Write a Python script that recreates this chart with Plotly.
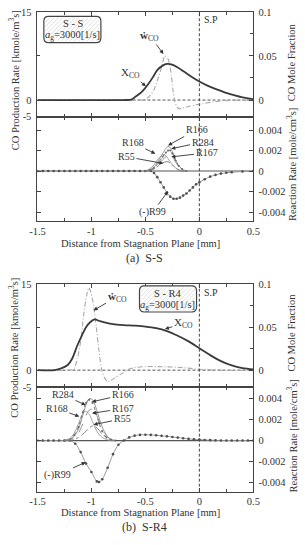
import plotly.graph_objects as go

W, H = 305, 545

# ---------------- data ----------------
x_tick_vals = [-1.5, -1, -0.5, 0, 0.5]
x_tick_text = ['-1.5', '-1', '-0.5', '0', '0.5']
x_minor_vals = [-1.25, -0.75, -0.25, 0.25]
frac_tick_vals = [0, 0.05, 0.1]
frac_tick_text = ['0', '0.05', '0.1']
rate_tick_vals = [-0.004, -0.002, 0, 0.002, 0.004]
rate_tick_text = ['-0.004', '-0.002', '0', '0.002', '0.004']

# Panel (a) S-S : upper
a_xco_x = [-1.5, -0.7, -0.63, -0.6, -0.56, -0.52, -0.48, -0.43, -0.39, -0.34, -0.30, -0.26,
           -0.20, -0.14, -0.08, 0.0, 0.08, 0.16, 0.24, 0.32, 0.40, 0.5]
a_xco = [0, 0, 0.0005, 0.003, 0.0065, 0.011, 0.017, 0.026, 0.034, 0.039, 0.041, 0.0405,
         0.037, 0.032, 0.027, 0.021, 0.016, 0.012, 0.0085, 0.0055, 0.003, 0.001]
a_wco_x = [-1.5, -0.55, -0.5, -0.46, -0.42, -0.38, -0.35, -0.32, -0.29, -0.275, -0.26, -0.245,
           -0.23, -0.21, -0.187, -0.16, -0.1, -0.04, 0.03, 0.1, 0.18, 0.28, 0.5]
a_wco = [0, 0, 0.1, 0.7, 1.8, 3.8, 5.6, 7.5, 7.0, 6.0, 4.3, 1.8,
         0.0, -1.1, -1.5, -1.4, -1.1, -0.85, -0.6, -0.4, -0.2, -0.05, 0]

# Panel (a) S-S : lower (reaction rates)
a_rx = [-0.5, -0.46, -0.42, -0.38, -0.34, -0.31, -0.29, -0.27, -0.25, -0.22, -0.19, -0.16, -0.12]
a_r166 = [0, 0.0001, 0.0004, 0.0010, 0.0017, 0.0022, 0.0024, 0.0023, 0.0019, 0.0011, 0.0005, 0.0002, 0]
a_r284 = [0, 0.0001, 0.0003, 0.0008, 0.0014, 0.0018, 0.0020, 0.0020, 0.0017, 0.0010, 0.0005, 0.0002, 0]
a_r167 = [0, 0.0001, 0.0002, 0.0006, 0.0011, 0.0014, 0.0016, 0.0016, 0.0014, 0.0009, 0.0004, 0.0001, 0]
a_r168 = [0, 0.0002, 0.0006, 0.0012, 0.0016, 0.0015, 0.0012, 0.0009, 0.0006, 0.0003, 0.0001, 0, 0]
a_r55 = [0, 0.0001, 0.0002, 0.0005, 0.0008, 0.0009, 0.0009, 0.0008, 0.0006, 0.0003, 0.0001, 0, 0]
a_r99_x = [-1.5, -1.45, -1.4, -1.35, -1.3, -1.25, -1.2, -1.15, -1.1, -1.05, -1.0, -0.95, -0.9,
           -0.85, -0.8, -0.75, -0.7, -0.65, -0.6, -0.55, -0.5, -0.45, -0.42, -0.39, -0.36,
           -0.33, -0.30, -0.27, -0.24, -0.21, -0.18, -0.15, -0.12, -0.09, -0.06, -0.03, 0.0,
           0.05, 0.1, 0.15, 0.2, 0.25, 0.3, 0.4, 0.5]
a_r99 = [0, 0, 0, 0, 0, 0, 0, 0, 0, 0, 0, 0, 0,
         0, 0, 0, 0, 0, 0, 0, 0, 0, -0.0002, -0.0006, -0.0011,
         -0.0016, -0.0021, -0.0025, -0.0027, -0.0027, -0.0026, -0.0024, -0.0022, -0.0019, -0.0016, -0.0013, -0.0011,
         -0.0008, -0.00055, -0.00038, -0.00025, -0.00017, -0.00012, -0.00005, 0]

# Panel (b) S-R4 : upper
b_xco_x = [-1.5, -1.34, -1.28, -1.22, -1.18, -1.13, -1.09, -1.05, -1.01, -0.97, -0.92, -0.86,
           -0.8, -0.7, -0.6, -0.5, -0.4, -0.3, -0.2, -0.1, 0.0, 0.1, 0.2, 0.3, 0.4, 0.5]
b_xco = [0, 0, 0.002, 0.006, 0.013, 0.029, 0.040, 0.050, 0.056, 0.059, 0.057, 0.055,
         0.0536, 0.0525, 0.0518, 0.0508, 0.049, 0.0455, 0.040, 0.0335, 0.0255, 0.0175, 0.0105, 0.0055, 0.0025, 0.001]
b_wco_x = [-1.5, -1.2, -1.16, -1.13, -1.10, -1.07, -1.045, -1.025, -1.005, -0.98, -0.955, -0.93,
           -0.905, -0.88, -0.85, -0.82, -0.78, -0.72, -0.66, -0.6, -0.5, -0.4, -0.3, -0.2,
           -0.1, 0.0, 0.1, 0.2, 0.5]
b_wco = [0, 0, 0.3, 2.0, 5.0, 10.0, 13.0, 14.4, 13.6, 11.3, 7.5, 3.4,
         0.1, -1.3, -2.0, -1.8, -1.3, -0.6, 0.1, 0.45, 0.62, 0.62, 0.58, 0.5,
         0.35, 0.15, 0.05, 0, 0]

# Panel (b) S-R4 : lower (reaction rates)
b_rx = [-1.25, -1.2, -1.16, -1.12, -1.08, -1.05, -1.02, -0.99, -0.96, -0.93, -0.9, -0.86, -0.82, -0.78]
b_r166 = [0, 0.0001, 0.0004, 0.0011, 0.0024, 0.0034, 0.0040, 0.0039, 0.0032, 0.0022, 0.0013, 0.0005, 0.0001, 0]
b_r284 = [0, 0.0001, 0.0005, 0.0013, 0.0027, 0.0036, 0.0039, 0.0036, 0.0027, 0.0017, 0.0009, 0.0003, 0.0001, 0]
b_r168 = [0, 0.0002, 0.0007, 0.0016, 0.0026, 0.0028, 0.0025, 0.0018, 0.0011, 0.0006, 0.0003, 0.0001, 0, 0]
b_r167 = [0, 0.0001, 0.0002, 0.0007, 0.0016, 0.0024, 0.0029, 0.0030, 0.0026, 0.0019, 0.0011, 0.0005, 0.0001, 0]
b_r55 = [0, 0, 0.0001, 0.0003, 0.0006, 0.0009, 0.0012, 0.0014, 0.0013, 0.0010, 0.0006, 0.0003, 0.0001, 0]
b_r99_x = [-1.5, -1.45, -1.4, -1.35, -1.3, -1.25, -1.2, -1.15, -1.1, -1.05, -1.0, -0.95, -0.93,
           -0.9, -0.85, -0.8, -0.75, -0.7, -0.65, -0.6, -0.55, -0.5, -0.45, -0.4, -0.35, -0.3,
           -0.25, -0.2, -0.15, -0.1, -0.05, 0.0, 0.05, 0.1, 0.15, 0.2, 0.25, 0.3, 0.35, 0.4, 0.45, 0.5]
b_r99 = [0, 0, 0, 0, 0, 0, 0, -0.0003, -0.0011, -0.0022, -0.0030, -0.0039, -0.00395,
         -0.0037, -0.0026, -0.0013, -0.0004, 0, 0.0003, 0.00047, 0.00054, 0.00056, 0.00054, 0.0005, 0.00045, 0.0004,
         0.00034, 0.00028, 0.00022, 0.00016, 0.00012, 0.00009, 0.00006, 0.00004, 0.00002, 0.00001, 0, 0, 0, 0, 0, 0]

# ---------------- helpers ----------------
def PX(x):
    return x / W

def PY(y):
    return 1 - y / H

FONT = "Liberation Serif"
DARK = '#3a3a3a'
AX = '#444444'

XL, XR = 31, 258
A_TOP, A_MID, A_BOT = 7, 114, 220.7
B_TOP, B_MID, B_BOT = 285, 390, 496.7

fig = go.Figure()

def curve(x, y, xa, ya, color, width, dash='solid', mode='lines', msize=3, mcolor=None, smooth=0.9):
    fig.add_trace(go.Scatter(
        x=x, y=y, xaxis=xa, yaxis=ya, mode=mode, showlegend=False, hoverinfo='skip',
        line=dict(color=color, width=width, dash=dash, shape='spline', smoothing=smooth),
        marker=dict(size=msize, color=mcolor or color)))

# panel a  (R99 on left lower axis y3, peaks on right lower axis y4 -> both axes carry traces)
curve(a_wco_x, a_wco, 'x', 'y', '#a8a8a8', 1.1, '5px,2px,1px,2px', smooth=0.6)
curve(a_xco_x, a_xco, 'x', 'y2', DARK, 1.8)
curve(a_r99_x, a_r99, 'x2', 'y3', '#9a9a9a', 1.0, 'solid', 'lines+markers', 2.6, '#505050')
curve(a_rx, a_r168, 'x2', 'y4', '#9a9a9a', 0.9)
curve(a_rx, a_r55, 'x2', 'y4', '#777777', 0.9, 'dashdot')
curve(a_rx, a_r166, 'x2', 'y4', '#8a8a8a', 0.9)
curve(a_rx, a_r284, 'x2', 'y4', '#666666', 0.9, 'dot', 'lines+markers', 2)
curve(a_rx, a_r167, 'x2', 'y4', '#888888', 0.9, 'dash')
# panel b
curve(b_wco_x, b_wco, 'x3', 'y5', '#a8a8a8', 1.1, '5px,2px,1px,2px', smooth=0.6)
curve(b_xco_x, b_xco, 'x3', 'y6', DARK, 1.8)
curve(b_r99_x, b_r99, 'x4', 'y7', '#9a9a9a', 1.0, 'solid', 'lines+markers', 2.6, '#505050')
curve(b_rx, b_r168, 'x4', 'y8', '#9a9a9a', 0.9)
curve(b_rx, b_r55, 'x4', 'y8', '#777777', 0.9, 'dashdot')
curve(b_rx, b_r166, 'x4', 'y8', '#8a8a8a', 0.9)
curve(b_rx, b_r284, 'x4', 'y8', '#666666', 0.9, 'dot', 'lines+markers', 2)
curve(b_rx, b_r167, 'x4', 'y8', '#888888', 0.9, 'dash')

tickfont = dict(family=FONT, size=10.5, color='#333')
xdom = [PX(XL), PX(XR)]

def xax(anchor, labels):
    return dict(domain=xdom, anchor=anchor, range=[-1.5, 0.5], tickvals=x_tick_vals, ticktext=x_tick_text,
                ticks='inside', ticklen=4, tickcolor=AX, showline=True, linecolor=AX, linewidth=1,
                mirror='ticks', showgrid=False, zeroline=False, showticklabels=labels, tickfont=tickfont,
                minor=dict(tickvals=x_minor_vals, ticks='inside', ticklen=3, tickcolor=AX))

def yleft(dom, anchor, rng, tv, tt, labels=True, minor=None):
    d = dict(domain=dom, anchor=anchor, range=rng, tickvals=tv, ticktext=tt, ticks='inside', ticklen=4,
             tickcolor=AX, showline=True, linecolor=AX, linewidth=1, showgrid=False, zeroline=False,
             showticklabels=labels, tickfont=tickfont, ticklabelstandoff=3)
    if minor:
        d['minor'] = dict(tickvals=minor, ticks='inside', ticklen=3, tickcolor=AX)
    return d

def yright(dom, over, anchor, rng, tv, tt, minor=None):
    d = dict(domain=dom, overlaying=over, side='right', anchor=anchor, range=rng, tickvals=tv, ticktext=tt,
             ticks='inside', ticklen=4, tickcolor=AX, showline=True, linecolor=AX, linewidth=1,
             showgrid=False, zeroline=False, tickfont=tickfont, ticklabelstandoff=2)
    if minor:
        d['minor'] = dict(tickvals=minor, ticks='inside', ticklen=3, tickcolor=AX)
    return d

a_up_rng = [-2.833, 15]
b_up_rng = [-2.96, 15]
a_lo_rng = [-0.0049, 0.0053]
b_lo_rng = [-0.00488, 0.0051]

dom_au = [PY(A_MID), PY(A_TOP)]
dom_al = [PY(A_BOT), PY(A_MID)]
dom_bu = [PY(B_MID), PY(B_TOP)]
dom_bl = [PY(B_BOT), PY(B_MID)]

fig.update_layout(
    width=W, height=H, margin=dict(l=0, r=0, t=0, b=0),
    plot_bgcolor='white', paper_bgcolor='white', showlegend=False,
    xaxis=xax('y', False),
    xaxis2=xax('y3', True),
    xaxis3=xax('y5', False),
    xaxis4=xax('y7', True),
    yaxis=yleft(dom_au, 'x', a_up_rng, [-2.82, 0, 15], ['-5', '0', '15'], minor=[7.5]),
    yaxis2=yright(dom_au, 'y', 'x', [a_up_rng[0] / 150, 0.1], frac_tick_vals, frac_tick_text, minor=[0.025, 0.075]),
    yaxis3=yleft(dom_al, 'x2', a_lo_rng, rate_tick_vals, rate_tick_text, labels=False),
    yaxis4=yright(dom_al, 'y3', 'x2', a_lo_rng, rate_tick_vals, rate_tick_text),
    yaxis5=yleft(dom_bu, 'x3', b_up_rng, [-2.95, 0, 15], ['-5', '0', '15'], minor=[7.5]),
    yaxis6=yright(dom_bu, 'y5', 'x3', [b_up_rng[0] / 150, 0.1], frac_tick_vals, frac_tick_text, minor=[0.025, 0.075]),
    yaxis7=yleft(dom_bl, 'x4', b_lo_rng, rate_tick_vals, rate_tick_text, labels=False),
    yaxis8=yright(dom_bl, 'y7', 'x4', b_lo_rng, rate_tick_vals, rate_tick_text),
)

shapes = []
for xr, yr in [('x domain', 'y'), ('x3 domain', 'y5')]:
    shapes.append(dict(type='line', xref=xr, yref=yr, x0=0, x1=1, y0=0, y1=0,
                       line=dict(color='#555', width=1, dash='3px,2px'), layer='below'))
for xr, yr in [('x2 domain', 'y3'), ('x4 domain', 'y7')]:
    shapes.append(dict(type='line', xref=xr, yref=yr, x0=0, x1=1, y0=0, y1=0,
                       line=dict(color='#555', width=1.2), layer='below'))
for xr, top, bot in [('x', A_TOP, A_BOT), ('x3', B_TOP, B_BOT)]:
    shapes.append(dict(type='line', xref=xr, yref='paper', x0=0, x1=0, y0=PY(bot), y1=PY(top),
                       line=dict(color='#444', width=1, dash='3px,2px')))

def P(x, y):
    return f"{PX(x):.5f},{PY(y):.5f}"

def rrect(x0, y0, x1, y1, r):
    return (f"M{P(x0 + r, y0)} L{P(x1 - r, y0)} Q{P(x1, y0)} {P(x1, y0 + r)} L{P(x1, y1 - r)} "
            f"Q{P(x1, y1)} {P(x1 - r, y1)} L{P(x0 + r, y1)} Q{P(x0, y1)} {P(x0, y1 - r)} "
            f"L{P(x0, y0 + r)} Q{P(x0, y0)} {P(x0 + r, y0)} Z")

def hatch(x0, y0, x1, y1, step=4.5, inset=1.5):
    x0, y0, x1, y1 = x0 + inset, y0 + inset, x1 - inset, y1 - inset
    segs = []
    c = x0 + y0 + step
    while c < x1 + y1:
        xa = max(x0, c - y1)
        xb = min(x1, c - y0)
        if xb > xa:
            segs.append(f"M{P(xa, c - xa)} L{P(xb, c - xb)}")
        c += step
    return " ".join(segs)

for (bx0, by0, bx1, by1) in [(37.7, 11.7, 97.7, 38.3), (138.3, 286.7, 198.3, 313.3)]:
    shapes.append(dict(type='path', xref='paper', yref='paper', path=rrect(bx0, by0, bx1, by1, 5),
                       fillcolor='white', line=dict(color='#444', width=1.2)))
    shapes.append(dict(type='path', xref='paper', yref='paper', path=hatch(bx0, by0, bx1, by1),
                       line=dict(color='#d2d2d2', width=0.7)))

fig.update_layout(shapes=shapes)

ann = []

def text(x, y, s, size=10.5, angle=0):
    ann.append(dict(xref='paper', yref='paper', x=PX(x), y=PY(y), text=s, showarrow=False,
                    textangle=angle, xanchor='center', yanchor='middle',
                    font=dict(family=FONT, size=size, color='#333')))

def arrow(hx, hy, tx, ty, s, size=10):
    ann.append(dict(xref='paper', yref='paper', x=PX(hx), y=PY(hy), ax=tx - hx, ay=ty - hy,
                    text=s, showarrow=True, arrowhead=2, arrowsize=0.9, arrowwidth=0.9,
                    arrowcolor='#333', standoff=0, startstandoff=0,
                    font=dict(family=FONT, size=size, color='#333')))

for yl, yr1, yr2, xlab, cap, capt in [
        (77, 58, 163, 243.3, 258.3, '(a)  S-S'),
        (350, 334, 440, 518.3, 532.7, '(b)  S-R4')]:
    text(6, yl, 'CO Production Rate [kmole/m<sup>3</sup>s]', 10.5, -90)
    text(298, yr1, 'CO Mole Fraction', 10.5, -90)
    text(298, yr2, 'Reaction Rate [mole/cm<sup>3</sup>s]', 10.5, -90)
    text(139, xlab, 'Distance from Stagnation Plane [mm]', 10.5)
    text(144, cap, capt, 12)

text(68.5, 18.5, 'S - S', 10.5)
text(68, 31.5, '<i>a</i><sub>g</sub>=3000[1/s]', 10.5)
text(168.5, 294, 'S - R4', 10.5)
text(168, 306.7, '<i>a</i><sub>g</sub>=3000[1/s]', 10.5)
text(214, 15, 'S.P', 10)
text(214, 293, 'S.P', 10)

WCO = '<b>ẇ</b><sub>CO</sub>'
XCO = 'X<sub>CO</sub>'
arrow(163.5, 50, 150, 32, WCO, 11)
arrow(145, 83, 130, 70, XCO, 11)
arrow(168.3, 143.3, 197, 127.5, 'R166')
arrow(171.7, 146.7, 203, 140, 'R284')
arrow(171.7, 155, 207, 151, 'R167')
arrow(155, 151.7, 132.5, 141, 'R168')
arrow(163.3, 161.7, 126.5, 155, 'R55')
arrow(168.3, 190, 153, 211, '(-)R99')
arrow(90, 311.7, 113.5, 298, WCO, 11)
arrow(165, 330.7, 183.5, 325, XCO, 11)
arrow(81.7, 408.3, 59, 398, 'R284')
arrow(88.3, 405, 119, 398, 'R166')
arrow(75, 420, 52.5, 412, 'R168')
arrow(88.3, 416.7, 119, 412, 'R167')
arrow(90, 428.3, 118.5, 422.5, 'R55')
arrow(81.7, 466.7, 54, 479, '(-)R99')

fig.update_layout(annotations=ann)

fig.write_html("out.html")
